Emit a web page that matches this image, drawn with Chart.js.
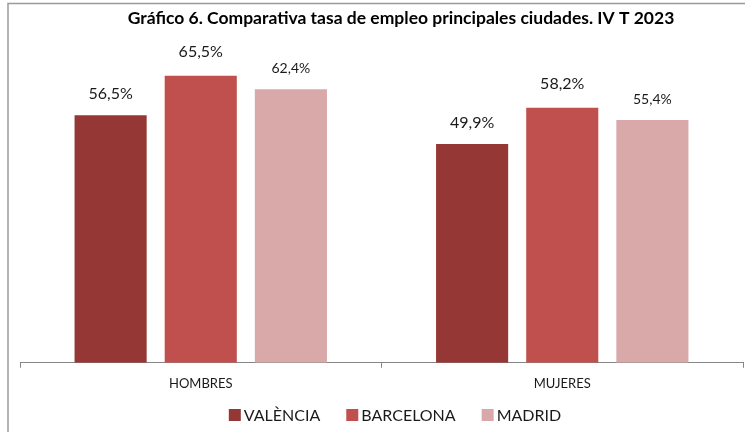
<!DOCTYPE html>
<html>
<head>
<meta charset="utf-8">
<script src="https://cdn.jsdelivr.net/npm/chart.js@4.4.0/dist/chart.umd.min.js"></script>
<style>
  html, body { margin: 0; padding: 0; background: #fff; }
</style>
</head>
<body>
<canvas id="empleo" width="745" height="432"></canvas>
<script>
const ctx = document.getElementById('empleo');

const title = 'Gráfico 6. Comparativa tasa de empleo principales ciudades. IV T 2023';
let groups = ['HOMBRES', 'MUJERES'];
let cities = ['VALÈNCIA', 'BARCELONA', 'MADRID'];
let valencia = [56.5, 49.9];
let barcelona = [65.5, 58.2];
let madrid = [62.4, 55.4];

const colors = ['#953735', '#c0504d', '#d9a9a9'];
// madrid labels are a bit smaller in the original
const labelFonts = ['16px Lato', '16px Lato', '14px Lato'];
const labelGap = [21, 24, 21];

// excel style frame + title (title is centred on the whole frame, not the plot)
const frame = {
    id: 'frame',
    beforeDraw(chart) {
        const c = chart.ctx;
        c.save();
        c.strokeStyle = '#9a9a9a';
        c.lineWidth = 1.5;
        c.beginPath();
        c.moveTo(8, 432);
        c.lineTo(8, 3.5);
        c.lineTo(745, 3.5);
        c.stroke();
        c.font = 'bold 17.5px Lato';
        c.fillStyle = '#000';
        c.textAlign = 'center';
        c.textBaseline = 'middle';
        c.fillText(title, 401, 18);
        c.restore();
    }
};

// percentages on top of the bars, spanish decimal comma
const valueLabels = {
    id: 'valueLabels',
    afterDatasetsDraw(chart) {
        const c = chart.ctx;
        c.save();
        c.fillStyle = '#1a1a1a';
        c.textAlign = 'center';
        c.textBaseline = 'middle';
        chart.data.datasets.forEach((ds, i) => {
            chart.getDatasetMeta(i).data.forEach((bar, j) => {
                c.font = labelFonts[i];
                c.fillText(ds.data[j].toFixed(1).replace('.', ',') + '%', bar.x, bar.y - labelGap[i]);
            });
        });
        c.restore();
    }
};

// the built in legend ties item spacing to its height, so draw it by hand
const bottomLegend = {
    id: 'bottomLegend',
    afterDraw(chart) {
        const c = chart.ctx;
        const box = 12, gap = 3, spacing = 26, cy = 415;
        c.save();
        c.font = '16px Lato';
        c.textBaseline = 'middle';
        c.textAlign = 'left';
        const items = chart.data.datasets.map(ds => ({
            text: ds.label,
            color: ds.backgroundColor,
            w: box + gap + c.measureText(ds.label).width
        }));
        const total = items.reduce((s, it) => s + it.w, 0) + spacing * (items.length - 1);
        let x = 395 - total / 2;
        items.forEach(it => {
            c.fillStyle = it.color;
            c.fillRect(x, cy - box / 2, box, box);
            c.fillStyle = '#1a1a1a';
            c.fillText(it.text, x + box + gap, cy + 1);
            x += it.w + spacing;
        });
        c.restore();
    }
};

const data = {
    labels: groups,
    datasets: [valencia, barcelona, madrid].map((vals, i) => ({
        label: cities[i],
        data: vals,
        backgroundColor: colors[i],
        categoryPercentage: 0.748,
        barPercentage: 0.8
    }))
};

new Chart(ctx, {
    type: 'bar',
    data: data,
    plugins: [frame, valueLabels, bottomLegend],
    options: {
        responsive: false,
        animation: false,
        layout: {
            padding: { top: 56, left: 20, right: 2, bottom: 32.2 }
        },
        scales: {
            x: {
                grid: {
                    drawOnChartArea: false,
                    drawTicks: true,
                    tickLength: 5,
                    color: '#868686'
                },
                border: { color: '#868686' },
                ticks: {
                    color: '#1a1a1a',
                    padding: 8.2,
                    font: { family: 'Lato', size: 13 }
                }
            },
            y: {
                display: false,
                min: 0,
                max: 70
            }
        },
        plugins: {
            legend: { display: false },
            tooltip: { enabled: false }
        }
    }
});
</script>
</body>
</html>
